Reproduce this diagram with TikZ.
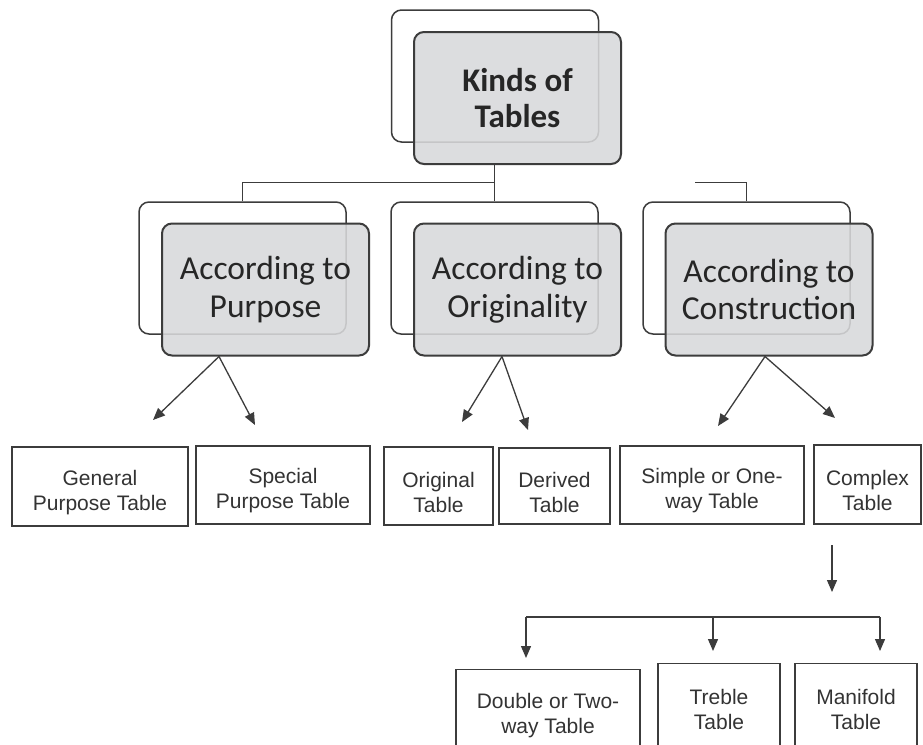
\documentclass[tikz,border=0pt]{standalone}
\usepackage{fontspec}
\setmainfont{Carlito}
\newfontfamily\arialf{Liberation Sans}
\usetikzlibrary{arrows.meta}
\definecolor{boxgray}{HTML}{D8D9DB}
\definecolor{edge}{HTML}{3C3C3C}
\definecolor{txt}{HTML}{262626}
\definecolor{leaftxt}{HTML}{333333}
\begin{document}
\begin{tikzpicture}[x=1pt,y=-1pt,
  backbox/.style={draw=edge, line width=1.5pt, rounded corners=10pt, fill=white,
    minimum width=207pt, minimum height=132pt, inner sep=0pt},
  frontbox/.style={draw=edge, line width=2pt, rounded corners=10pt, fill=boxgray,
    fill opacity=0.88, text opacity=1, align=center, text=txt,
    minimum width=207pt, minimum height=132pt, inner sep=0pt,
    font=\fontsize{33.5}{37.5}\selectfont},
  leaf/.style={draw=edge, line width=1.4pt, inner sep=0pt},
  leaftext/.style={align=center, text=leaftxt, inner sep=0pt,
    font=\arialf\fontsize{21}{25}\selectfont},
  conn/.style={draw=edge, line width=1.5pt},
  arr/.style={draw=edge, line width=1.3pt, -{Triangle[length=12pt,width=10pt]}}]
\path[use as bounding box, clip] (0,0) rectangle (923,744);
\fill[white] (0,0) rectangle (923,744);

% level 1
\node[backbox] (kback) at (495,76) {};
\node[frontbox, font=\bfseries\fontsize{33}{36.5}\selectfont] (kfront) at (517.5,98) {Kinds of\\Tables};

% level 2
\node[backbox] (pback) at (242.5,268) {};
\node[frontbox] (pfront) at (265.5,289.5) {According to\\Purpose};
\node[backbox] (oback) at (494.5,268) {};
\node[frontbox] (ofront) at (517.5,289.5) {According to\\Originality};
\node[backbox] (cback) at (746.5,268) {};
\node[frontbox] (cfront) at (769,289.5) {According to\\Construction};

% connectors level 1 -> 2
\draw[conn] (oback.north |- kfront.south) -- (oback.north);
\draw[conn] (pback.north) -- ++(0,-19) -| (oback.north);
\draw[conn] (cback.north) -- ++(0,-19) -- ++(-52,0);

% level 3
\node[leaf, minimum width=176pt, minimum height=79pt,
  label={[leaftext, yshift=-6pt]center:{General\\Purpose Table}}] (gen) at (100,486.5) {};
\node[leaf, minimum width=174pt, minimum height=78pt,
  label={[leaftext, yshift=-6pt]center:{Special\\Purpose Table}}] (spe) at (283,485) {};
\node[leaf, minimum width=109pt, minimum height=78pt,
  label={[leaftext, yshift=-6pt]center:{Original\\Table}}] (ori) at (438.5,486) {};
\node[leaf, minimum width=111pt, minimum height=76pt,
  label={[leaftext, yshift=-6pt]center:{Derived\\Table}}] (der) at (554.5,486) {};
\node[leaf, minimum width=184pt, minimum height=78pt,
  label={[leaftext, yshift=-6pt]center:{Simple or One-\\way Table}}] (sim) at (712,485) {};
\node[leaf, minimum width=107pt, minimum height=79pt,
  label={[leaftext, yshift=-6pt]center:{Complex\\Table}}] (com) at (867.5,484.5) {};

% level 4
\node[leaf, minimum width=184pt, minimum height=88pt, anchor=north,
  label={[leaftext, yshift=-2pt]center:{Double or Two-\\way Table}}] (dou) at (548,669) {};
\node[leaf, minimum width=122pt, minimum height=88pt, anchor=north,
  label={[leaftext, yshift=-2pt]center:{Treble\\Table}}] (tre) at (719,663) {};
\node[leaf, minimum width=122pt, minimum height=88pt, anchor=north,
  label={[leaftext, yshift=-2pt]center:{Manifold\\Table}}] (man) at (856,663) {};

% arrow end points
\coordinate (tgen) at (153,420);
\coordinate (tspe) at (255,425);
\coordinate (tori) at (462,422);
\coordinate (tder) at (528,430);
\coordinate (tsim) at (718,426);
\coordinate (tcom) at (835,418);
\coordinate (cstart) at (832,545);
\coordinate (cend) at (832,592);
\coordinate (busL) at (526,617);
\coordinate (busM) at (713,617);
\coordinate (busR) at (880,617);

% arrows level 2 -> 3
\draw[arr] ([xshift=-46.5pt]pfront.south) -- (tgen);
\draw[arr] ([xshift=-46.5pt]pfront.south) -- (tspe);
\draw[arr] ([xshift=-15.5pt]ofront.south) -- (tori);
\draw[arr] ([xshift=-15.5pt]ofront.south) -- (tder);
\draw[arr] ([xshift=-4pt]cfront.south) -- (tsim);
\draw[arr] ([xshift=-4pt]cfront.south) -- (tcom);

% complex -> sub kinds
\draw[arr] (cstart) -- (cend);
\draw[conn, line width=1.3pt] (busL) -- (busR);
\draw[arr] (busL) -- ([yshift=11pt]busL |- dou.north);
\draw[arr] (busM) -- ([yshift=12pt]busM |- tre.north);
\draw[arr] (busR) -- ([yshift=12pt]busR |- man.north);
\end{tikzpicture}
\end{document}
